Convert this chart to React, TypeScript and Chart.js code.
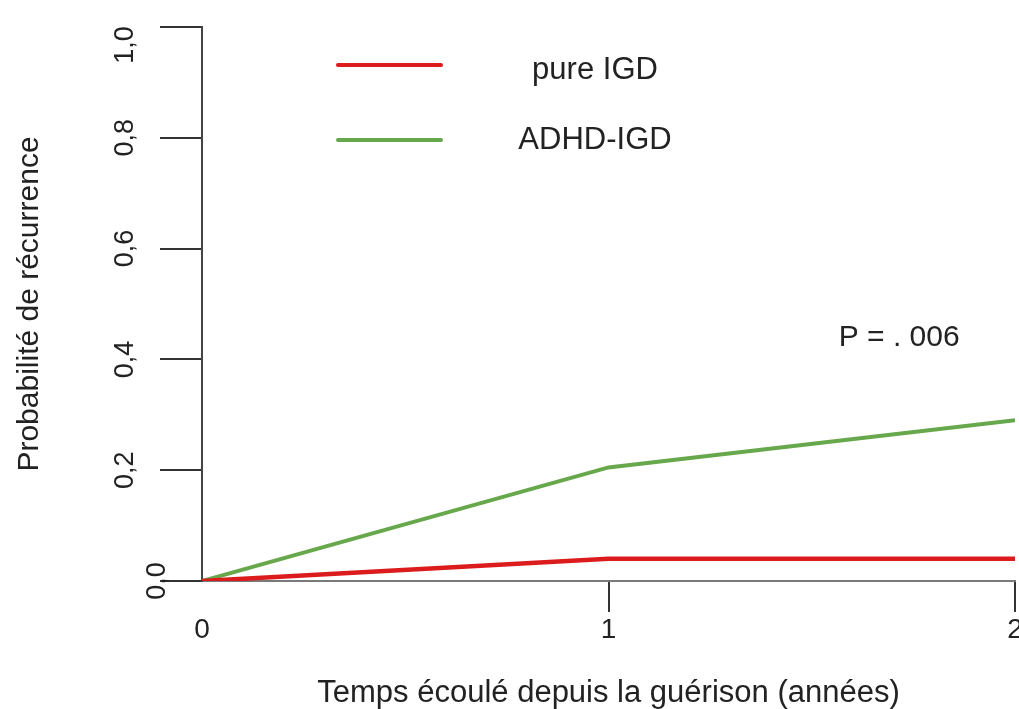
import React, { useEffect, useRef } from "react";
import { Chart, registerables } from "chart.js";

Chart.register(...registerables);

const xValues = [0, 1, 2];
const pureIgd = [0, 0.04, 0.04];
const adhdIgd = [0, 0.205, 0.29];
const seriesLabels = ["pure IGD", "ADHD-IGD"];
const seriesColors = ["#dc1c1c", "#68a84c"];
const xTickLabels = ["0", "1", "2"];
const yTickLabels = ["0,0", "0,2", "0,4", "0,6", "0,8", "1,0"];
const annotationText = "P = . 006";
const annotationAt = { x: 1.715, y: 0.44 };

const FONT = "'Liberation Sans', Arial, Helvetica, sans-serif";
const TEXT = "#222";

const overlayPlugin = {
  id: "overlay",
  afterDraw(chart: any) {
    const { ctx, chartArea } = chart;
    const ds = chart.data.datasets;
    const xs = chart.scales.x;
    const ys = chart.scales.y;
    ctx.save();
    // legend
    const rows = [65, 140];
    const textRows = [70, 140];
    ds.forEach((d: any, i: number) => {
      const y = rows[i];
      ctx.strokeStyle = d.borderColor;
      ctx.lineWidth = 4;
      ctx.lineCap = "round";
      ctx.beginPath();
      ctx.moveTo(chartArea.left + 136, y);
      ctx.lineTo(chartArea.left + 239, y);
      ctx.stroke();
      ctx.fillStyle = TEXT;
      ctx.font = `31px ${FONT}`;
      ctx.textAlign = "center";
      ctx.textBaseline = "middle";
      ctx.fillText(d.label, chartArea.left + 393, textRows[i]);
    });
    // y tick labels (rotated)
    ctx.fillStyle = TEXT;
    ctx.font = `27px ${FONT}`;
    ctx.textAlign = "center";
    ctx.textBaseline = "middle";
    const n = ys.ticks.length;
    ys.ticks.forEach((t: any, i: number) => {
      let y = ys.getPixelForValue(t.value);
      if (i === n - 1) y += 18;
      const x = i === 0 ? chartArea.left - 44 : chartArea.left - 76;
      ctx.save();
      ctx.translate(x, y);
      ctx.rotate(-Math.PI / 2);
      ctx.fillText(yTickLabels[i], 0, 0);
      ctx.restore();
    });
    // annotation
    ctx.font = `30px ${FONT}`;
    ctx.fillText(annotationText, xs.getPixelForValue(annotationAt.x), ys.getPixelForValue(annotationAt.y));
    ctx.restore();
  },
};

export default function App() {
  const ref = useRef<HTMLCanvasElement | null>(null);
  useEffect(() => {
    if (!ref.current) return;
    const chart = new Chart(ref.current, {
      type: "line",
      data: {
        datasets: [
          {
            label: seriesLabels[0],
            data: xValues.map((x, i) => ({ x, y: pureIgd[i] })),
            borderColor: seriesColors[0],
            backgroundColor: seriesColors[0],
            borderWidth: 4.5,
            pointRadius: 0,
            tension: 0,
          },
          {
            label: seriesLabels[1],
            data: xValues.map((x, i) => ({ x, y: adhdIgd[i] })),
            borderColor: seriesColors[1],
            backgroundColor: seriesColors[1],
            borderWidth: 4,
            pointRadius: 0,
            tension: 0,
          },
        ],
      },
      options: {
        animation: false,
        responsive: true,
        maintainAspectRatio: false,
        layout: { padding: { top: 27, right: 4, left: 0, bottom: 0 } },
        plugins: { legend: { display: false }, tooltip: { enabled: false } },
        scales: {
          x: {
            type: "linear",
            position: "bottom",
            min: 0,
            max: 2,
            border: { display: true, color: "#7a7a7a", width: 2 },
            grid: {
              display: true,
              drawOnChartArea: false,
              drawTicks: true,
              tickLength: 31,
              lineWidth: 2,
              color: (c: any) => (c.index === 0 ? "rgba(0,0,0,0)" : "#333"),
            },
            ticks: {
              stepSize: 1,
              padding: 1,
              font: { size: 28, family: FONT },
              color: TEXT,
              maxRotation: 0,
              callback: (_v: any, i: number) => xTickLabels[i],
            },
            title: {
              display: true,
              text: "Temps écoulé depuis la guérison (années)",
              font: { size: 31, family: FONT },
              color: TEXT,
              padding: { top: 0, bottom: -3 },
            },
            afterFit: (s: any) => {
              s.height = 128;
              s.paddingLeft = 0;
              s.paddingRight = 0;
            },
          },
          y: {
            type: "linear",
            position: "left",
            min: 0,
            max: 1,
            border: { display: true, color: "#444", width: 2 },
            grid: {
              display: true,
              drawOnChartArea: false,
              drawTicks: true,
              tickLength: 42,
              lineWidth: 2,
              color: "#333",
            },
            ticks: {
              stepSize: 0.2,
              display: false,
            },
            title: {
              display: true,
              text: "Probabilité de récurrence",
              font: { size: 30, family: FONT },
              color: TEXT,
              padding: { top: 12, bottom: 0 },
            },
            afterFit: (s: any) => {
              s.width = 202;
              s.paddingTop = 0;
              s.paddingBottom = 0;
            },
          },
        },
      },
      plugins: [overlayPlugin],
    } as any);
    return () => chart.destroy();
  }, []);
  return (
    <div style={{ position: "absolute", left: 0, top: 0, width: 1019, height: 709, background: "#fff" }}>
      <canvas ref={ref} />
    </div>
  );
}
